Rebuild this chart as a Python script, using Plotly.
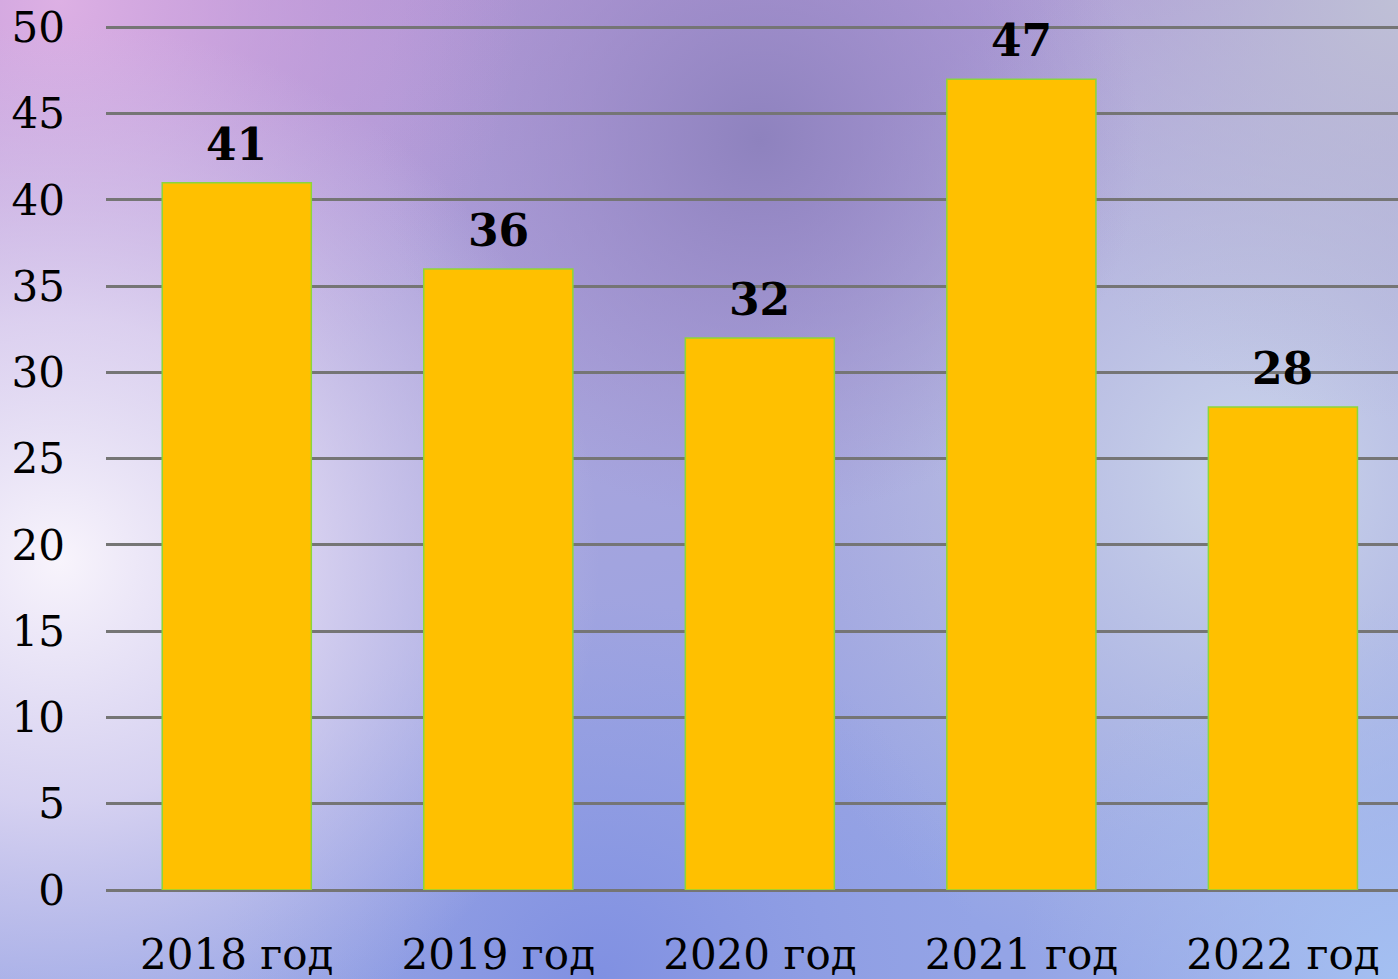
import base64
import plotly.graph_objects as go

categories = ["2018 год", "2019 год", "2020 год", "2021 год", "2022 год"]
values = [41, 36, 32, 47, 28]
y_ticks = [0, 5, 10, 15, 20, 25, 30, 35, 40, 45, 50]

W, H = 1398, 979
ML, MR, MT, MB = 106, 0, 24, 89
PW, PH = W - ML - MR, H - MT - MB

svg = f"""<svg xmlns='http://www.w3.org/2000/svg' width='{W}' height='{H}' viewBox='0 0 {W} {H}'>
<defs>
<linearGradient id='base' x1='0' y1='0' x2='0.3' y2='1'>
<stop offset='0' stop-color='#B596D4'/>
<stop offset='0.5' stop-color='#A8A4DC'/>
<stop offset='1' stop-color='#94A4E6'/>
</linearGradient>
<radialGradient id='pink' cx='60' cy='0' r='460' gradientUnits='userSpaceOnUse'>
<stop offset='0' stop-color='#DDB0E4' stop-opacity='1'/>
<stop offset='1' stop-color='#C898DC' stop-opacity='0'/>
</radialGradient>
<radialGradient id='white' cx='60' cy='560' r='540' gradientUnits='userSpaceOnUse'>
<stop offset='0' stop-color='#F8F4FC' stop-opacity='1'/>
<stop offset='0.45' stop-color='#E8E0F6' stop-opacity='0.75'/>
<stop offset='1' stop-color='#D8D0F0' stop-opacity='0'/>
</radialGradient>
<radialGradient id='dark' cx='760' cy='140' r='380' gradientUnits='userSpaceOnUse'>
<stop offset='0' stop-color='#8E82BE' stop-opacity='1'/>
<stop offset='1' stop-color='#9A88C8' stop-opacity='0'/>
</radialGradient>
<radialGradient id='right' cx='1250' cy='480' r='520' gradientUnits='userSpaceOnUse'>
<stop offset='0' stop-color='#CCD6EC' stop-opacity='1'/>
<stop offset='1' stop-color='#C0C4E0' stop-opacity='0'/>
</radialGradient>
<radialGradient id='topright' cx='1398' cy='0' r='420' gradientUnits='userSpaceOnUse'>
<stop offset='0' stop-color='#BFC0D6' stop-opacity='1'/>
<stop offset='1' stop-color='#B8B8D4' stop-opacity='0'/>
</radialGradient>
<radialGradient id='blue' cx='600' cy='979' r='380' gradientUnits='userSpaceOnUse'>
<stop offset='0' stop-color='#8090E2' stop-opacity='1'/>
<stop offset='1' stop-color='#8C98E0' stop-opacity='0'/>
</radialGradient>
<radialGradient id='lb' cx='1398' cy='979' r='380' gradientUnits='userSpaceOnUse'>
<stop offset='0' stop-color='#A4C0F2' stop-opacity='1'/>
<stop offset='1' stop-color='#A8BCEE' stop-opacity='0'/>
</radialGradient>
</defs>
<rect width='{W}' height='{H}' fill='url(#base)'/>
<rect width='{W}' height='{H}' fill='url(#right)'/>
<rect width='{W}' height='{H}' fill='url(#topright)'/>
<rect width='{W}' height='{H}' fill='url(#dark)'/>
<rect width='{W}' height='{H}' fill='url(#blue)'/>
<rect width='{W}' height='{H}' fill='url(#lb)'/>
<rect width='{W}' height='{H}' fill='url(#pink)'/>
<rect width='{W}' height='{H}' fill='url(#white)'/>
</svg>"""
src = "data:image/svg+xml;base64," + base64.b64encode(svg.encode()).decode()

fig = go.Figure()
fig.add_trace(go.Bar(
    x=categories, y=values, width=0.57,
    marker=dict(color="#FFC000", line=dict(color="#8CD63A", width=1.5)),
    hoverinfo="skip",
))

for c, v in zip(categories, values):
    fig.add_annotation(
        x=c, y=v, text=str(v), showarrow=False, yanchor="bottom", yshift=11,
        font=dict(family="DejaVu Serif", size=44, color="#000000", weight="bold"),
    )

fig.add_layout_image(
    source=src, xref="paper", yref="paper",
    x=-ML / PW, y=1 + MT / PH, sizex=W / PW, sizey=H / PH,
    xanchor="left", yanchor="top", sizing="stretch", layer="below",
)

fig.update_layout(
    width=W, height=H,
    margin=dict(l=ML, r=MR, t=MT, b=MB),
    paper_bgcolor="rgba(0,0,0,0)", plot_bgcolor="rgba(0,0,0,0)",
    showlegend=False,
    font=dict(family="DejaVu Serif", size=42, color="#000000"),
)
fig.update_xaxes(
    range=[-0.5, 4.44], showgrid=False, showline=False, ticks="",
    ticklabelstandoff=36, tickfont=dict(family="DejaVu Serif", size=42),
)
fig.update_yaxes(
    range=[0, 50.2], tickvals=y_ticks, showgrid=True, gridcolor="#757575", gridwidth=2.5,
    zeroline=True, zerolinecolor="#757575", zerolinewidth=2.5, showline=False, ticks="",
    ticklabelstandoff=40, tickfont=dict(family="DejaVu Serif", size=42),
)

fig.write_html(
    "out.html",
    config={"displayModeBar": False},
    post_script="document.body.style.margin='0';document.body.style.overflow='hidden';",
)
